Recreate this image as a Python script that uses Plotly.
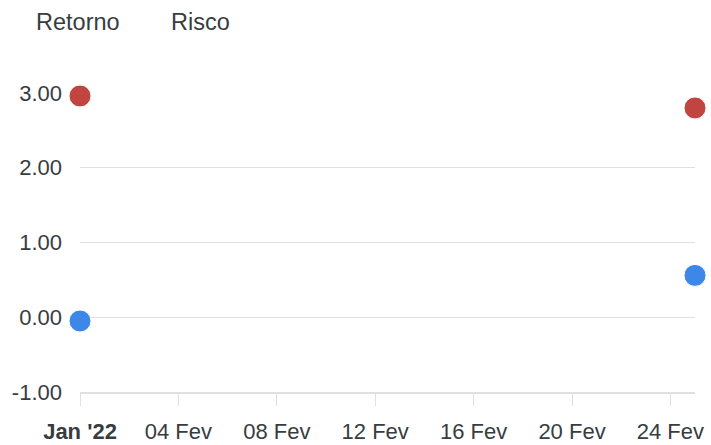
import plotly.graph_objects as go

dates = ["2022-01-31", "2022-02-25"]
retorno = [-0.05, 0.56]
risco = [2.96, 2.80]
series_names = ["Retorno", "Risco"]
tick_dates = ["2022-01-31", "2022-02-04", "2022-02-08", "2022-02-12",
              "2022-02-16", "2022-02-20", "2022-02-24"]
tick_labels = ["<b>Jan '22</b>", "04 Fev", "08 Fev", "12 Fev", "16 Fev", "20 Fev", "24 Fev"]
y_ticks = [-1, 0, 1, 2, 3]
y_tick_labels = ["-1.00", "0.00", "1.00", "2.00", "3.00"]

FONT = "Liberation Sans, Arial, sans-serif"
TXT = "#373d3f"
W, H = 711, 445
L, R, T, B = 80, 16, 93, 53
PW, PH = W - L - R, H - T - B

fig = go.Figure()
fig.add_trace(go.Scatter(x=dates, y=retorno, mode="markers", name=series_names[0],
                         marker=dict(size=22, color="#3d87e8", line=dict(color="white", width=1)),
                         cliponaxis=False, showlegend=False))
fig.add_trace(go.Scatter(x=dates, y=risco, mode="markers", name=series_names[1],
                         marker=dict(size=22, color="#c0443f", line=dict(color="white", width=1)),
                         cliponaxis=False, showlegend=False))

for name, xs in zip(series_names, [34, 169]):
    fig.add_annotation(text=name, xref="paper", yref="paper", x=-L / PW, y=1 + 71 / PH,
                       xanchor="left", yanchor="middle", showarrow=False,
                       font=dict(family=FONT, size=23.5, color=TXT), xshift=xs)

fig.update_layout(
    width=W, height=H, autosize=False,
    margin=dict(l=L, r=R, t=T, b=B, autoexpand=False),
    paper_bgcolor="white", plot_bgcolor="white",
    font=dict(family=FONT, size=22, color=TXT),
    xaxis=dict(type="date", range=[dates[0], dates[1]], tickvals=tick_dates, ticktext=tick_labels,
               showgrid=False, zeroline=False, showline=True, linecolor="#e0e0e0", linewidth=2,
               ticks="outside", ticklen=12, tickcolor="#e0e0e0", tickwidth=1, automargin=False,
               ticklabelstandoff=7, tickfont=dict(size=22, color=TXT)),
    yaxis=dict(range=[-1, 3], tickvals=y_ticks, ticktext=y_tick_labels,
               showgrid=True, gridcolor="#e0e0e0", gridwidth=1, zeroline=False,
               showline=False, ticks="", ticklabelstandoff=17, automargin=False,
               tickfont=dict(size=22, color=TXT)),
)

fig.write_html("out.html", config={"displayModeBar": False},
               post_script="document.body.style.margin='0';document.body.style.overflow='hidden';")
